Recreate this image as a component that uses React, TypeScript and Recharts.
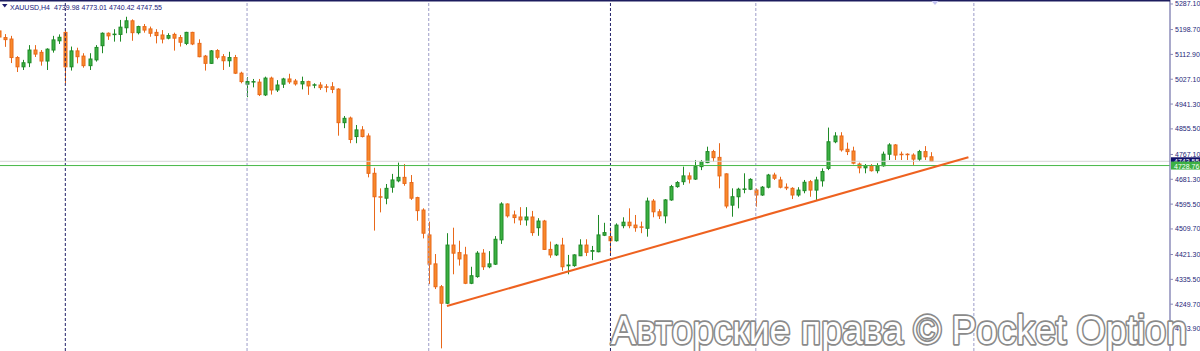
import React from 'react';
import { ComposedChart, Bar, XAxis, YAxis, ReferenceLine } from 'recharts';

const opens = [
  5194, 5171, 5166, 5102, 5070, 5084, 5128, 5120, 5090, 5128,
  5160, 5189, 5070, 5125, 5107, 5074, 5094, 5143, 5186, 5180,
  5182, 5205, 5229, 5188, 5209, 5201, 5189, 5180, 5169, 5182,
  5171, 5151, 5189, 5151, 5107, 5082, 5126, 5105, 5091, 5102,
  5048, 5010, 5018, 5017, 4973, 5031, 4990, 5010, 5028, 5021,
  5011, 5019, 5006, 5007, 5001, 5001, 4993, 4877, 4893, 4829,
  4852, 4831, 4702, 4621, 4616, 4654, 4676, 4688, 4670, 4618,
  4575, 4489, 4389, 4310, 4253, 4454, 4428, 4420, 4322, 4345,
  4426, 4379, 4388, 4472, 4596, 4558, 4551, 4541, 4551, 4514,
  4537, 4439, 4420, 4454, 4379, 4383, 4417, 4454, 4429, 4431,
  4488, 4483, 4469, 4521, 4533, 4523, 4517, 4512, 4606, 4569,
  4555, 4610, 4656, 4673, 4693, 4682, 4725, 4739, 4777, 4757,
  4700, 4592, 4621, 4644, 4647, 4644, 4627, 4654, 4696, 4679,
  4654, 4650, 4627, 4642, 4673, 4644, 4676, 4719, 4811, 4831,
  4785, 4779, 4734, 4721, 4728, 4711, 4728, 4768, 4800, 4768,
  4768, 4765, 4751, 4777, 4759,
];
const highs = [
  5201, 5183, 5177, 5107, 5094, 5145, 5145, 5128, 5134, 5177,
  5182, 5194, 5140, 5136, 5117, 5117, 5145, 5189, 5189, 5200,
  5232, 5243, 5234, 5212, 5218, 5209, 5200, 5197, 5186, 5188,
  5180, 5191, 5191, 5165, 5111, 5128, 5131, 5114, 5122, 5111,
  5053, 5034, 5028, 5028, 5036, 5036, 5024, 5032, 5046, 5028,
  5036, 5022, 5013, 5017, 5010, 5017, 4996, 4900, 4898, 4869,
  4865, 4840, 4721, 4650, 4665, 4700, 4739, 4734, 4696, 4621,
  4581, 4535, 4423, 4316, 4495, 4514, 4469, 4448, 4379, 4433,
  4440, 4433, 4485, 4602, 4598, 4573, 4585, 4585, 4572, 4547,
  4541, 4466, 4458, 4479, 4420, 4422, 4474, 4474, 4451, 4558,
  4531, 4514, 4529, 4550, 4581, 4558, 4535, 4618, 4613, 4578,
  4613, 4662, 4675, 4725, 4705, 4748, 4748, 4794, 4783, 4806,
  4702, 4650, 4652, 4702, 4685, 4650, 4658, 4700, 4704, 4690,
  4667, 4654, 4654, 4679, 4679, 4690, 4719, 4860, 4844, 4844,
  4808, 4794, 4739, 4734, 4734, 4737, 4777, 4806, 4803, 4777,
  4771, 4771, 4783, 4796, 4775,
];
const lows = [
  5166, 5139, 5083, 5052, 5059, 5069, 5104, 5074, 5059, 5119,
  5149, 5014, 5057, 5082, 5067, 5059, 5088, 5117, 5163, 5157,
  5157, 5186, 5160, 5182, 5188, 5174, 5151, 5151, 5165, 5126,
  5140, 5145, 5145, 5103, 5057, 5080, 5096, 5059, 5070, 5045,
  5013, 4965, 4999, 4969, 4969, 4974, 4983, 4997, 5011, 5005,
  4992, 4973, 4996, 4990, 4982, 4979, 4832, 4858, 4806, 4806,
  4826, 4688, 4504, 4567, 4595, 4635, 4671, 4659, 4610, 4538,
  4477, 4319, 4302, 4097, 4250, 4353, 4383, 4319, 4319, 4341,
  4368, 4374, 4385, 4458, 4549, 4529, 4523, 4521, 4486, 4486,
  4437, 4410, 4416, 4365, 4353, 4379, 4416, 4416, 4402, 4429,
  4485, 4420, 4466, 4512, 4512, 4500, 4495, 4483, 4550, 4544,
  4529, 4607, 4652, 4662, 4667, 4679, 4713, 4737, 4742, 4650,
  4581, 4552, 4581, 4633, 4644, 4587, 4624, 4650, 4679, 4650,
  4644, 4613, 4621, 4633, 4621, 4610, 4656, 4713, 4806, 4777,
  4765, 4733, 4702, 4702, 4708, 4702, 4725, 4748, 4748, 4748,
  4748, 4731, 4745, 4748, 4742,
];
const closes = [
  5173, 5164, 5102, 5070, 5084, 5128, 5114, 5090, 5131, 5163,
  5172, 5070, 5125, 5105, 5074, 5097, 5137, 5186, 5177, 5183,
  5207, 5229, 5188, 5209, 5197, 5186, 5178, 5166, 5178, 5169,
  5155, 5189, 5149, 5105, 5082, 5125, 5103, 5091, 5102, 5048,
  5019, 5019, 5019, 4974, 5031, 4990, 5007, 5028, 5018, 5011,
  5019, 5004, 5008, 4998, 4998, 4992, 4877, 4892, 4819, 4852,
  4829, 4702, 4621, 4616, 4650, 4679, 4688, 4667, 4616, 4573,
  4495, 4388, 4310, 4253, 4454, 4426, 4406, 4322, 4348, 4426,
  4379, 4389, 4474, 4596, 4555, 4549, 4541, 4551, 4497, 4537,
  4439, 4420, 4454, 4379, 4385, 4420, 4454, 4429, 4435, 4489,
  4497, 4469, 4523, 4533, 4521, 4514, 4512, 4606, 4569, 4555,
  4610, 4656, 4670, 4693, 4682, 4725, 4742, 4777, 4756, 4693,
  4589, 4621, 4647, 4648, 4681, 4627, 4654, 4696, 4685, 4654,
  4648, 4627, 4644, 4671, 4644, 4679, 4708, 4811, 4831, 4783,
  4777, 4737, 4721, 4728, 4711, 4728, 4768, 4800, 4765, 4763,
  4764, 4751, 4777, 4759, 4743.55,
];

const priceTicks = [5287.1, 5198.7, 5112.9, 5027.1, 4941.3, 4855.5, 4767.1, 4681.3, 4595.5, 4509.7, 4421.3, 4335.5, 4249.7, 4163.9];
const darkSeparators = [11, 101];
const lightSeparators = [41, 71, 125, 161];
const bidPrice = 4743.55;
const levelPrice = 4728.76;
const trendStart = { x: 74, y: 4243.4 };
const trendEnd = { x: 160.1, y: 4757.3 };
const symbolLabel = 'XAUUSD,H4';
const ohlcLabel = '4739.98 4773.01 4740.42 4747.55';
const watermark = 'Авторские права © Pocket Option';

const data = opens.map((o, i) => ({
  i,
  open: o,
  high: highs[i],
  low: lows[i],
  close: closes[i],
  range: [lows[i], highs[i]],
}));

const BULL_FILL = '#3cb043';
const BULL_EDGE = '#1f8a27';
const BEAR_FILL = '#f8892a';
const BEAR_EDGE = '#e8681a';

const Candle = (props: any) => {
  const { x, y, width, height, payload } = props;
  if (!payload || height == null) return null;
  const { open, close, high, low } = payload;
  const span = high - low || 1;
  const per = height / span;
  const yO = y + (high - open) * per;
  const yC = y + (high - close) * per;
  const bull = close >= open;
  const c = Math.round(x + width / 2);
  const top = Math.min(yO, yC);
  const bot = Math.max(yO, yC);
  const h = bot - top;
  const edge = bull ? BULL_EDGE : BEAR_EDGE;
  const fill = bull ? BULL_FILL : BEAR_FILL;
  return (
    <g>
      <line x1={c + 0.5} x2={c + 0.5} y1={y} y2={y + height} stroke={edge} strokeWidth={1} />
      {h < 2 ? (
        <rect x={c - 1.5} y={top - 0.5} width={4} height={Math.max(h, 1.5)} fill={edge} />
      ) : (
        <rect x={c - 1} y={top} width={3} height={h} fill={fill} stroke={edge} strokeWidth={1} />
      )}
    </g>
  );
};

const PriceTag = (bg: string, text: string) => (props: any) => {
  const vb = props.viewBox || {};
  const xr = (vb.x || 0) + (vb.width || 0);
  const yc = vb.y || 0;
  return (
    <g>
      <rect x={xr + 1} y={yc - 4} width={32} height={8} fill={bg} />
      <text x={xr + 4} y={yc + 3} fontSize={7} fontFamily="Liberation Sans" fill="#ffffff">
        {text}
      </text>
    </g>
  );
};

export default function App() {
  return (
    <div style={{ position: 'absolute', left: 0, top: 0, width: 1200, height: 351, background: '#ffffff', overflow: 'hidden' }}>
      <ComposedChart width={1200} height={351} data={data} margin={{ top: 0, right: 0, bottom: 0, left: 0 }}>
        <XAxis dataKey="i" type="number" domain={[0.2146, 193.38]} allowDataOverflow hide />
        <YAxis
          orientation="right"
          width={30}
          domain={[4087.9, 5300.9]}
          allowDataOverflow
          ticks={priceTicks}
          interval={0}
          tickSize={3}
          tickMargin={2}
          tickFormatter={(v: number) => v.toFixed(2)}
          tick={{ fill: '#262678', fontSize: 7, fontFamily: 'Liberation Sans', textAnchor: 'start' }}
          axisLine={{ stroke: '#8c8cba', strokeWidth: 1.5 }}
          tickLine={{ stroke: '#8c8cba' }}
        />
        {darkSeparators.map((s) => (
          <ReferenceLine key={'d' + s} x={s} stroke="#22226a" strokeDasharray="3 2" strokeWidth={1} ifOverflow="visible" />
        ))}
        {lightSeparators.map((s) => (
          <ReferenceLine key={'l' + s} x={s} stroke="#9c9cc8" strokeDasharray="3 2" strokeWidth={1} ifOverflow="visible" />
        ))}
        <ReferenceLine y={bidPrice} stroke="#d6d6d6" strokeWidth={1} label={PriceTag('#12126a', bidPrice.toFixed(2))} />
        <ReferenceLine y={levelPrice} stroke="#48b848" strokeWidth={1} label={PriceTag('#3cb043', levelPrice.toFixed(2))} />
        <Bar dataKey="range" barSize={4} isAnimationActive={false} shape={<Candle />} />
        <ReferenceLine
          segment={[trendStart, trendEnd]}
          stroke="#ee6220"
          strokeWidth={2}
          ifOverflow="visible"
        />
      </ComposedChart>
      <svg width={1200} height={351} style={{ position: 'absolute', left: 0, top: 0, pointerEvents: 'none' }}>
        <rect x={0} y={0} width={1170} height={1.5} fill="#1c1c5e" />
        <polygon points="931.5,1 938.5,1 935,5" fill="#c4c4f0" />
        <polygon points="2,4 7.5,4 4.75,7.5" fill="#1e1e6e" />
        <text x={10} y={9.5} fontSize={7.5} fontFamily="Liberation Sans" fill="#20207a" textLength={40} lengthAdjust="spacingAndGlyphs">
          {symbolLabel}
        </text>
        <text x={54} y={9.5} fontSize={7.5} fontFamily="Liberation Sans" fill="#20207a" textLength={108} lengthAdjust="spacingAndGlyphs">
          {ohlcLabel}
        </text>
        <text
          x={611}
          y={344}
          fontSize={41}
          fontFamily="Liberation Sans"
          fill="#ffffff"
          stroke="#8a8a8a"
          strokeWidth={3.5}
          strokeLinejoin="round"
          style={{ paintOrder: 'stroke' }}
          textLength={576}
          lengthAdjust="spacingAndGlyphs"
        >
          {watermark}
        </text>
      </svg>
    </div>
  );
}
